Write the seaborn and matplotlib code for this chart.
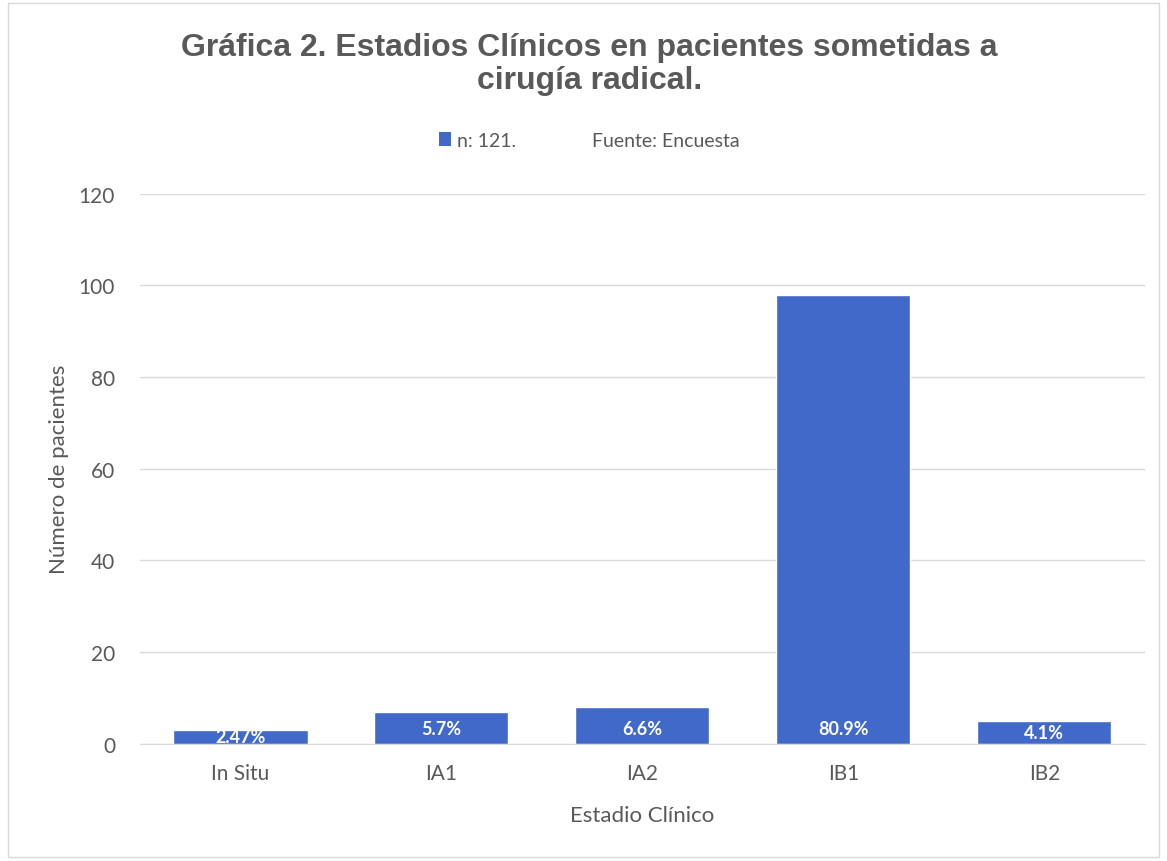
import matplotlib
matplotlib.use("Agg")
import matplotlib.pyplot as plt
from matplotlib.patches import Patch, Rectangle
import seaborn as sns
import pandas as pd

# data
estadios = ["In Situ", "IA1", "IA2", "IB1", "IB2"]
pacientes = [3, 7, 8, 98, 5]
porcentajes = ["2.47%", "5.7%", "6.6%", "80.9%", "4.1%"]

df = pd.DataFrame({"estadio": estadios, "n": pacientes})

sns.set_style("white")
plt.rcParams["font.family"] = ["Lato", "DejaVu Sans"]

gray = "#595959"
blue = "#4169C9"

fig = plt.figure(figsize=(11.67, 8.62), dpi=100)
ax = fig.add_axes([0.12, 0.136, 0.861, 0.638])

sns.barplot(data=df, x="estadio", y="n", color=blue, width=0.667,
            saturation=1, ax=ax, zorder=2)

for i, (h, lab) in enumerate(zip(pacientes, porcentajes)):
    ax.text(i, min(h / 2, 3.3), lab, ha="center", va="center",
            color="white", fontsize=13, fontweight="bold", zorder=3)

ax.set_ylim(0, 120)
ax.set_yticks(range(0, 121, 20))
ax.set_xlim(-0.5, 4.5)
ax.yaxis.grid(True, color="#d9d9d9", linewidth=1, zorder=0)
for s in ["top", "right", "left"]:
    ax.spines[s].set_visible(False)
ax.spines["bottom"].set_color("#d9d9d9")
ax.tick_params(axis="x", colors=gray, labelsize=15, length=0, pad=14)
ax.tick_params(axis="y", colors=gray, labelsize=15, length=0, pad=18)

ax.set_xlabel("Estadio Clínico", color=gray, fontsize=16, labelpad=16)
ax.set_ylabel("Número de pacientes", color=gray, fontsize=16, labelpad=7)

fig.suptitle("Gráfica 2. Estadios Clínicos en pacientes sometidas a\ncirugía radical.",
             x=0.505, y=0.962, fontsize=23, fontweight="bold", color=gray,
             family=["Liberation Sans", "DejaVu Sans"], linespacing=1.15)

handles = [Patch(facecolor=blue, edgecolor="none"),
           Patch(facecolor="none", edgecolor="none")]
fig.legend(handles, ["n: 121.", "Fuente: Encuesta"], loc="center",
           bbox_to_anchor=(0.505, 0.836), ncol=2, frameon=False,
           fontsize=14, labelcolor=gray, handlelength=0.6, handleheight=0.7,
           handletextpad=0.3, columnspacing=3.0)

fig.patches.append(Rectangle((0.007, 0.005), 0.986, 0.99, transform=fig.transFigure,
                             fill=False, edgecolor="#d9d9d9", linewidth=1))

fig.savefig("out.png", dpi=100)
